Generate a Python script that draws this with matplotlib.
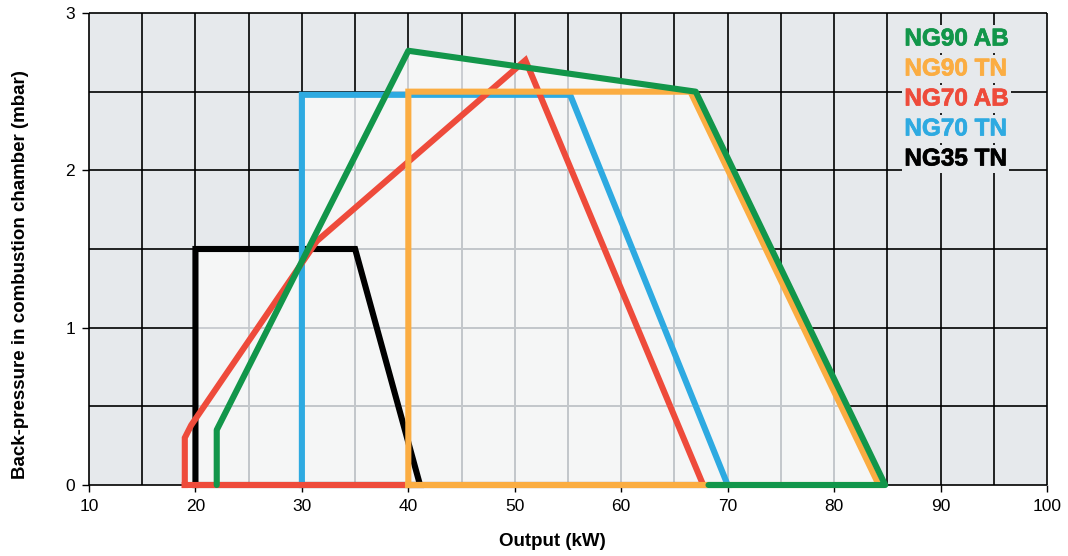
import matplotlib
matplotlib.use("Agg")
import matplotlib.pyplot as plt
from matplotlib.patches import Polygon
from matplotlib.collections import LineCollection
import matplotlib.patheffects as pe
import numpy as np

plt.rcParams['font.family'] = ['Liberation Sans', 'DejaVu Sans']

# ---- data ----
series_names = ["NG90 AB", "NG90 TN", "NG70 AB", "NG70 TN", "NG35 TN"]
series_colors = ["#12964a", "#fbad42", "#ee4b3b", "#2eaae1", "#000000"]

ng35_tn_x = [20, 20, 35, 41.1, 20]
ng35_tn_y = [0, 1.5, 1.5, 0, 0]

ng70_tn_x = [30, 30, 55.2, 70, 30]
ng70_tn_y = [0, 2.48, 2.48, 0, 0]

ng70_ab_x = [19.0, 19.0, 19.6, 31.4, 51.0, 67.7, 19.0]
ng70_ab_y = [0, 0.30, 0.38, 1.55, 2.70, 0, 0]

ng90_tn_x = [40, 40, 66.5, 84.2, 40]
ng90_tn_y = [0, 2.50, 2.50, 0, 0]

ng90_ab_x = [68.2, 84.8, 67.0, 40.0, 22.0, 22.0]
ng90_ab_y = [0, 0, 2.50, 2.76, 0.35, 0]

x_ticks = [10, 20, 30, 40, 50, 60, 70, 80, 90, 100]
y_ticks = [0, 1, 2, 3]
x_label = "Output (kW)"
y_label = "Back-pressure in combustion chamber (mbar)"

# ---- figure ----
fig = plt.figure(figsize=(10.68, 5.56), dpi=100)
ax = fig.add_axes([89/1068, 1 - 485/556, (1047-89)/1068, (485-13)/556])
ax.set_xlim(10, 100)
ax.set_ylim(0, 3)
ax.set_facecolor("#e6e9ec")
for s in ax.spines.values():
    s.set_visible(False)

gx = np.arange(10, 100.1, 5)
gy = np.arange(0, 3.01, 0.5)
segs = [[(x, 0), (x, 3)] for x in gx] + [[(10, y), (100, y)] for y in gy]
ax.add_collection(LineCollection(segs, colors="black", linewidths=1.2, zorder=0.5,
                                 clip_on=False))

light = "#f5f6f6"
shapes = [
    (ng35_tn_x, ng35_tn_y),
    (ng70_tn_x, ng70_tn_y),
    (ng70_ab_x, ng70_ab_y),
    (ng90_tn_x, ng90_tn_y),
    (ng90_ab_x, ng90_ab_y),
]
for xs, ys in shapes:
    poly = Polygon(np.column_stack([xs, ys]), closed=True, facecolor=light,
                   edgecolor="none", zorder=1)
    ax.add_patch(poly)
    lc = LineCollection(segs, colors="#c3c7cb", linewidths=1.2, zorder=1.5)
    ax.add_collection(lc)
    lc.set_clip_path(poly)

lw = 4.4
# draw order: black, blue, red, orange, green
ax.plot(ng35_tn_x, ng35_tn_y, color=series_colors[4], lw=lw, zorder=3,
        solid_joinstyle="miter", clip_on=False)
ax.plot(ng70_tn_x, ng70_tn_y, color=series_colors[3], lw=lw, zorder=4,
        solid_joinstyle="miter", clip_on=False)
ax.plot(ng70_ab_x, ng70_ab_y, color=series_colors[2], lw=lw, zorder=5,
        solid_joinstyle="miter", clip_on=False)
ax.plot(ng90_tn_x, ng90_tn_y, color=series_colors[1], lw=lw, zorder=6,
        solid_joinstyle="miter", clip_on=False)
ax.plot(ng90_ab_x, ng90_ab_y, color=series_colors[0], lw=lw, zorder=7,
        solid_joinstyle="round", solid_capstyle="round", clip_on=False)

# legend as coloured text
ly0 = 2.835
for i, (name, col) in enumerate(zip(series_names, series_colors)):
    t = ax.text(86.6, ly0 - i * 0.1907, name, color=col, fontsize=17.5,
                fontweight="bold", va="center", ha="left", zorder=8,
                bbox=dict(facecolor="#e6e9ec", edgecolor="none", pad=1.5))
    t.set_path_effects([pe.Stroke(linewidth=0.5, foreground=col), pe.Normal()])

ax.set_xticks(x_ticks)
ax.set_yticks(y_ticks)
ax.tick_params(direction="out", length=5, width=1, colors="black", labelsize=12.5,
               pad=5)
ax.set_xlabel(x_label, fontsize=13.5, fontweight="bold")
ax.set_ylabel(y_label, fontsize=13.5, fontweight="bold")
ax.xaxis.set_label_coords(0.484, -0.102)
ax.yaxis.set_label_coords(-0.072, 0.445)
ax.yaxis.label.set_va("center")

fig.savefig("out.png", dpi=100, facecolor="white")
